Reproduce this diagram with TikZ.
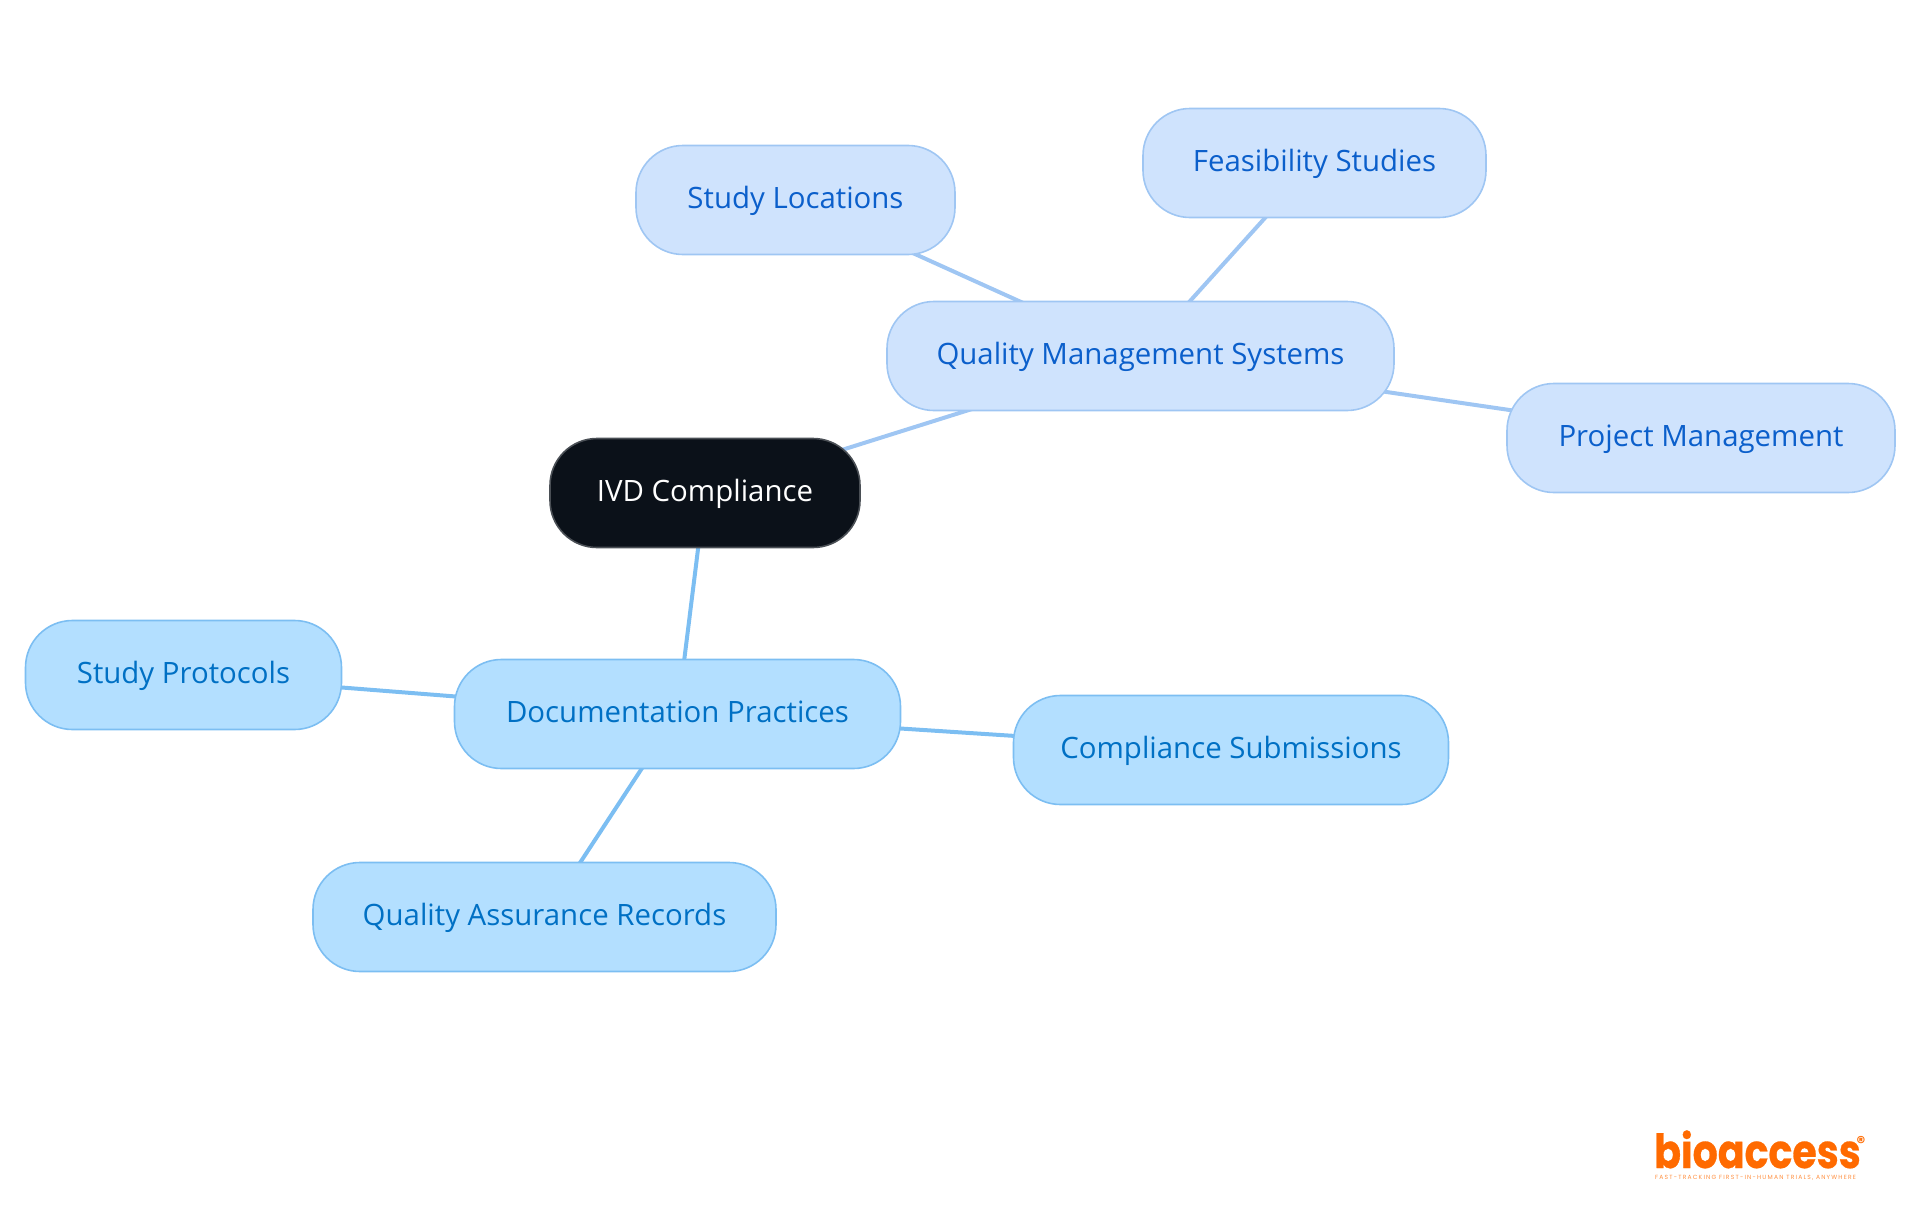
\documentclass[tikz,border=0pt]{standalone}
\usepackage{fontspec}
\setmainfont{Open Sans}
\newfontfamily\logofont[FakeStretch=0.84,FakeBold=0.6]{Poppins}
\newfontfamily\tagfont[LetterSpace=20]{Poppins}
\usetikzlibrary{positioning, backgrounds}

\definecolor{rootfill}{HTML}{0B1119}
\definecolor{rootline}{HTML}{4A4F55}
\definecolor{qualfill}{HTML}{CFE3FD}
\definecolor{qualline}{HTML}{9FC6F3}
\definecolor{qualtext}{HTML}{0B5FCB}
\definecolor{docfill}{HTML}{B3DFFF}
\definecolor{docline}{HTML}{7CBEF2}
\definecolor{doctext}{HTML}{0070C4}
\definecolor{logoorange}{HTML}{FF6A00}

\begin{document}
\begin{tikzpicture}[
  x=1pt, y=-1pt,
  font=\fontsize{29.4}{34}\selectfont,
  base/.style   ={draw, line width=1.6pt, rounded corners=47pt, align=center, outer sep=0pt,
                  inner sep=0pt, minimum height=109pt, text height=21pt, text depth=5pt},
  rootbox/.style={base, fill=rootfill, draw=rootline, text=white},
  qual/.style   ={base, fill=qualfill, draw=qualline, text=qualtext},
  doc/.style    ={base, fill=docfill, draw=docline, text=doctext},
  qualarr/.style={line width=4pt, qualline},
  docarr/.style ={line width=4pt, docline},
]
\useasboundingbox (0,0) rectangle (1920,1215);

% ================= root =================
\node[rootbox, minimum width=310pt] (ivd) at (705,493) {IVD Compliance};

% ================= upper branch =================
\node[qual, minimum width=507pt, above right=28pt and 27pt of ivd] (qms) {Quality Management Systems};
\node[qual, minimum width=319pt, above=47pt of qms, xshift=-345pt] (locs) {Study Locations};
\node[qual, minimum width=343pt, above=84pt of qms, xshift=174pt] (feas) {Feasibility Studies};
\node[qual, minimum width=388pt, right=113pt of qms, yshift=-82pt] (proj) {Project Management};

% ================= lower branch =================
\node[doc, minimum width=446pt, below=112pt of ivd, xshift=-27.5pt] (dcp) {Documentation Practices};
\node[doc, minimum width=316pt, left=113pt of dcp, yshift=39pt] (prot) {Study Protocols};
\node[doc, minimum width=435pt, right=113pt of dcp, yshift=-36pt] (subm) {Compliance Submissions};
\node[doc, minimum width=463pt, below=94pt of dcp, xshift=-133pt] (qar) {Quality Assurance Records};

% connectors sit behind the boxes
\begin{scope}[on background layer]
  \draw[qualarr] (ivd.center) -- (qms.center);
  \foreach \a in {locs, feas, proj}{\draw[qualarr] (qms.center) -- (\a.center);}
  \draw[docarr] (ivd.center) -- (dcp.center);
  \foreach \a in {prot, subm, qar}{\draw[docarr] (dcp.center) -- (\a.center);}
\end{scope}

% ================= logo =================
\node[text=logoorange, inner sep=0pt, anchor=base west, font=\logofont\bfseries\fontsize{47}{50}\selectfont] (logo) at (1654,1168) {bioaccess};
\node[text=logoorange, inner sep=0pt, anchor=center, font=\tagfont\bfseries\fontsize{17}{18}\selectfont] (reg) at (1861,1142) {®};
\node[text=logoorange!75, inner sep=0pt, anchor=west, font=\tagfont\fontsize{6}{7}\selectfont] (tag) at (1655,1178) {FAST-TRACKING FIRST-IN-HUMAN TRIALS, ANYWHERE};

\end{tikzpicture}
\end{document}
